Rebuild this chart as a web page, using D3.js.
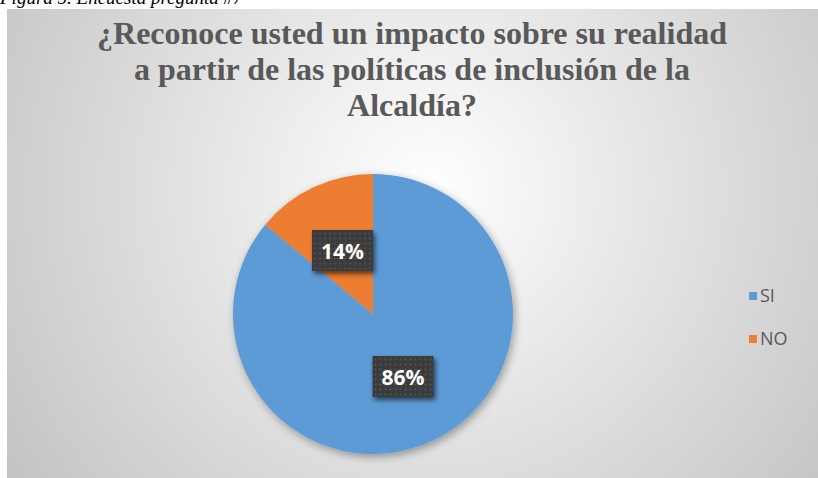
<!DOCTYPE html>
<html><head><meta charset="utf-8">
<script src="https://cdn.jsdelivr.net/npm/d3@7"></script>
<style>html,body{margin:0;padding:0;background:#fff;overflow:hidden}</style>
</head><body>
<svg id="c" width="818" height="478"></svg>
<script>
const categories = ["SI", "NO"];
const values = [86, 14];
const labels = ["86%", "14%"];
const colors = ["#5B9BD5", "#ED7D31"];
const titleLines = ["¿Reconoce usted un impacto sobre su realidad", "a partir de las políticas de inclusión de la", "Alcaldía?"];
const caption = "Figura 5. Encuesta pregunta #7";

const SERIF = '"Liberation Serif"';
const SANS = '"Open Sans"';

const svg = d3.select("#c");
const defs = svg.append("defs");
const rg = defs.append("radialGradient").attr("id","bg").attr("gradientUnits","userSpaceOnUse")
  .attr("cx",430).attr("cy",190).attr("r",520);
rg.append("stop").attr("offset","0%").attr("stop-color","#ffffff");
rg.append("stop").attr("offset","100%").attr("stop-color","#c2c2c2");
const sh = defs.append("filter").attr("id","sh").attr("x","-20%").attr("y","-20%").attr("width","140%").attr("height","140%");
sh.append("feGaussianBlur").attr("in","SourceAlpha").attr("stdDeviation",4);
sh.append("feOffset").attr("dx",2).attr("dy",3).attr("result","b");
sh.append("feComponentTransfer").append("feFuncA").attr("type","linear").attr("slope",0.35);
const m = sh.append("feMerge"); m.append("feMergeNode"); m.append("feMergeNode").attr("in","SourceGraphic");
const sh2 = defs.append("filter").attr("id","sh2").attr("x","-30%").attr("y","-30%").attr("width","160%").attr("height","160%");
sh2.append("feGaussianBlur").attr("in","SourceAlpha").attr("stdDeviation",2.5);
sh2.append("feOffset").attr("dx",2).attr("dy",3).attr("result","b");
sh2.append("feComponentTransfer").append("feFuncA").attr("type","linear").attr("slope",0.6);
const m2 = sh2.append("feMerge"); m2.append("feMergeNode"); m2.append("feMergeNode").attr("in","SourceGraphic");
const pat = defs.append("pattern").attr("id","dots").attr("width",5).attr("height",5).attr("patternUnits","userSpaceOnUse");
pat.append("rect").attr("width",5).attr("height",5).attr("fill","#3b3b3b");
pat.append("circle").attr("cx",2.5).attr("cy",2.5).attr("r",1).attr("fill","#555555");

svg.append("rect").attr("x",7).attr("y",9).attr("width",811).attr("height",469).attr("fill","url(#bg)");

svg.append("text").attr("x",0).attr("y",4).style("font-family",SERIF).style("font-style","italic")
  .style("font-size","19px").attr("fill","#000").text(caption);

const tt = svg.append("g").selectAll("text").data(titleLines).join("text")
  .attr("x",412).attr("y",(d,i)=>44+i*36).attr("text-anchor","middle")
  .style("font-family",SERIF).style("font-weight","bold").style("font-size","30px")
  .attr("fill","#595959").text(d=>d);
const w0 = tt.node().getComputedTextLength();
tt.style("font-size", (30 * 630 / w0) + "px");

const cx = 373, cy = 314, R = 140;
const pie = d3.pie().sort(null).value(d=>d)(values);
const arc = d3.arc().innerRadius(0).outerRadius(R);
const g = svg.append("g").attr("transform",`translate(${cx},${cy})`);
g.append("g").attr("filter","url(#sh)").selectAll("path").data(pie).join("path")
  .attr("d",arc).attr("fill",(d,i)=>colors[i]);

const lpos = [[30,63],[-30.5,-63]];
const lg = g.selectAll("g.lab").data(pie).join("g").attr("class","lab")
  .attr("transform",(d,i)=>`translate(${lpos[i][0]},${lpos[i][1]})`);
lg.append("rect").attr("x",-30.5).attr("y",-21).attr("width",61).attr("height",41)
  .attr("fill","url(#dots)").attr("filter","url(#sh2)");
lg.append("text").attr("text-anchor","middle").attr("dy","0.36em")
  .style("font-family",SANS).style("font-weight","bold").style("font-size","21px")
  .attr("fill","#fff").text((d,i)=>labels[i]);

const leg = svg.append("g").selectAll("g").data(categories).join("g")
  .attr("transform",(d,i)=>`translate(749,${296+i*43})`);
leg.append("rect").attr("x",0).attr("y",-4).attr("width",8).attr("height",8).attr("fill",(d,i)=>colors[i]);
leg.append("text").attr("x",11).attr("dy","0.36em").style("font-family",SANS)
  .style("font-size","18px").attr("fill","#595959").text(d=>d);
</script>
</body></html>
